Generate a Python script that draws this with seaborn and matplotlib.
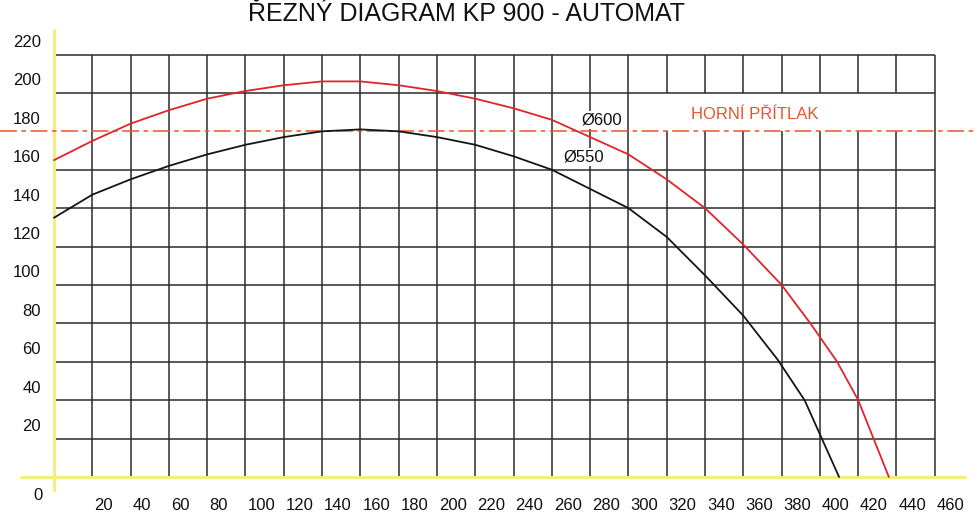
import numpy as np
import pandas as pd
import matplotlib.pyplot as plt
import seaborn as sns

# Grid / axis values
x_ticks = list(range(20, 461, 20))
y_ticks = list(range(20, 221, 20))
press_limit = 180

# Curve for saw blade diameter 600
d600_x = [0, 20, 40, 60, 80, 100, 120, 140, 160, 180, 200, 220, 240, 260, 280,
          300, 320, 340, 360, 380, 395, 409, 420, 428, 436]
d600_y = [165, 175, 184, 191, 197, 201, 204, 206, 206, 204, 201, 197, 192, 186, 177,
          168, 155, 140, 121, 100, 80, 60, 40, 20, 0]

# Curve for saw blade diameter 550
d550_x = [0, 20, 40, 60, 80, 100, 120, 140, 160, 180, 200, 220, 240, 260, 280,
          300, 320, 340, 360, 378, 392, 401, 410]
d550_y = [135, 147, 155, 162, 168, 173, 177, 180, 181, 180, 177, 173, 167, 160, 150,
          140, 125, 105, 84, 61, 40, 20, 0]

df = pd.concat([
    pd.DataFrame({'x': d600_x, 'y': d600_y, 'd': 'Ø600'}),
    pd.DataFrame({'x': d550_x, 'y': d550_y, 'd': 'Ø550'}),
], ignore_index=True)

sns.set_style("white")
plt.rcParams['font.family'] = ['Liberation Sans', 'DejaVu Sans']

fig = plt.figure(figsize=(9.75, 5.14), dpi=100)
ax = fig.add_axes([0, 0, 1, 1])

grid_c = '#2b2b2b'
# horizontal grid lines (180 is replaced by the dash-dot limit line)
for y in y_ticks:
    if y == press_limit:
        continue
    ax.hlines(y, 0, 460, color=grid_c, lw=1.1, zorder=1)
# vertical grid lines, gap behind the "HORNÍ PŘÍTLAK" label
for x in x_ticks:
    if 320 <= x <= 440:
        ax.vlines(x, 0, 180, color=grid_c, lw=1.1, zorder=1)
        ax.vlines(x, 200, 220, color=grid_c, lw=1.1, zorder=1)
    else:
        ax.vlines(x, 0, 220, color=grid_c, lw=1.1, zorder=1)

# yellow axes
ax.plot([-17, 476], [0, 0], color='#f4ee7c', lw=2.2, zorder=2, clip_on=False)
ax.plot([0, 0], [-7, 233], color='#f4ee7c', lw=2.2, zorder=2, clip_on=False)

# upper pressure limit
ax.axhline(press_limit, color='#e8542e', lw=1.1, linestyle=(0, (11, 3, 3, 3)), zorder=2)

sns.lineplot(data=df, x='x', y='y', hue='d', palette={'Ø600': '#e0242a', 'Ø550': '#151515'},
             estimator=None, sort=False, legend=False, lw=1.3, ax=ax, zorder=3,
             solid_joinstyle='round')
ax.axis('off')
ax.set_xlim(-28.2, 481)
ax.set_ylim(-19.3, 248.4)

# tick labels
for y in y_ticks:
    ax.text(-6.8, y + 6.25, str(y), ha='right', va='center', fontsize=12, color='#111111')
ax.text(-5.7, -9.9, '0', ha='right', va='center', fontsize=12, color='#111111')
for x in x_ticks:
    ax.text(x + 1, -15.1, str(x), ha='left', va='center', fontsize=12, color='#111111')

# labels
box = dict(facecolor='white', edgecolor='none', pad=1)
ax.text(286.2, 185.9, 'Ø600', ha='center', va='center', fontsize=12, color='#111111',
        bbox=box, zorder=4)
ax.text(276.8, 166.7, 'Ø550', ha='center', va='center', fontsize=12, color='#111111',
        bbox=box, zorder=4)
ax.text(366.1, 189, 'HORNÍ PŘÍTLAK', ha='center', va='center', fontsize=12, color='#e8542e',
        zorder=4)
ax.text(215.2, 237.5, 'ŘEZNÝ DIAGRAM KP 900 - AUTOMAT', ha='center', va='baseline',
        fontsize=18, color='#111111')

fig.savefig('out.png', dpi=100)
